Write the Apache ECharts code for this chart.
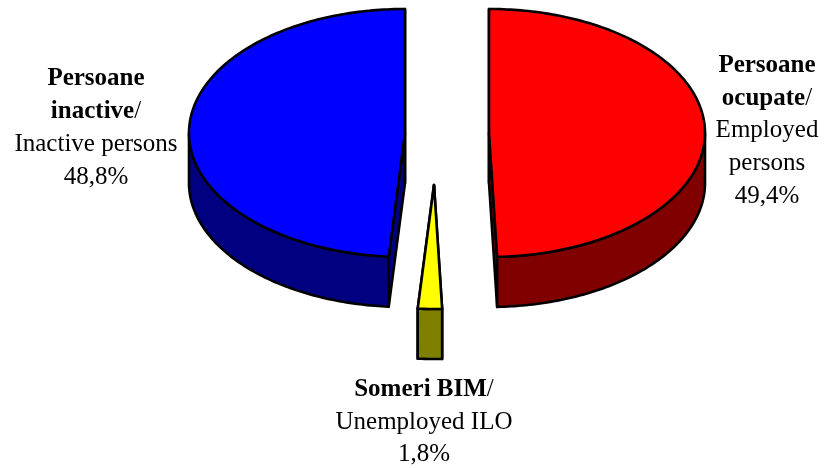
<!DOCTYPE html>
<html>
<head>
<meta charset="utf-8">
<style>
  html, body { margin: 0; padding: 0; background: #fff; }
  #chart { width: 824px; height: 468px; }
</style>
<script src="https://cdn.jsdelivr.net/npm/echarts@6/dist/echarts.min.js"></script>
</head>
<body>
<div id="chart"></div>
<script>
// date
const values = [49.4, 1.8, 48.8];
const boldNames = [['Persoane', 'ocupate'], ['Someri BIM'], ['Persoane', 'inactive']];
const plainNames = [['Employed', 'persons'], ['Unemployed ILO'], ['Inactive persons']];
const percents = ['49,4%', '1,8%', '48,8%'];

// culori fata / lateral
const topColors = ['#ff0000', '#ffff00', '#0000ff'];
const sideColors = ['#800000', '#808000', '#000080'];

// geometrie
const rx = 216;
const ry = 124;
const depth = 50;
const centers = [[489, 133], [434, 185], [405, 133]];
const labelPos = [[767, 49], [424, 373], [96, 62.5]];

const total = values.reduce((a, b) => a + b, 0);

function point(c, angle, dy) {
  return [c[0] + rx * Math.sin(angle), c[1] - ry * Math.cos(angle) + (dy || 0)];
}

function arcPoints(c, from, to, dy) {
  const steps = Math.max(2, Math.ceil(Math.abs(to - from) * 60));
  const pts = [];
  for (let i = 0; i <= steps; i++) {
    pts.push(point(c, from + (to - from) * i / steps, dy));
  }
  return pts;
}

function poly(points, fill) {
  return {
    type: 'polygon',
    shape: { points: points },
    style: { fill: fill, stroke: '#000', lineWidth: 2.6, lineJoin: 'round' },
  };
}

function renderSlice(params, api) {
  const i = params.dataIndex;
  const before = values.slice(0, i).reduce((a, b) => a + b, 0);
  const start = before / total * Math.PI * 2;
  const end = start + api.value(0) / total * Math.PI * 2;
  const c = centers[i];
  const bottomCenter = [c[0], c[1] + depth];
  const children = [];

  // peretii taieturii
  [start, end].forEach((a) => {
    children.push(poly([c, point(c, a), point(c, a, depth), bottomCenter], sideColors[i]));
  });

  // partea laterala vizibila
  const from = Math.max(start, Math.PI / 2);
  const to = Math.min(end, Math.PI * 1.5);
  if (to > from) {
    children.push(poly(
      arcPoints(c, from, to).concat(arcPoints(c, to, from, depth)),
      sideColors[i]
    ));
  }

  // fata de sus
  children.push(poly([c].concat(arcPoints(c, start, end)), topColors[i]));

  // eticheta
  const lines = boldNames[i].map((s, k) =>
    '{b|' + s + '}' + (k === boldNames[i].length - 1 ? '{n|/}' : ''))
    .concat(plainNames[i].map((s) => '{n|' + s + '}'))
    .concat('{n|' + percents[i] + '}');
  children.push({
    type: 'text',
    x: labelPos[i][0],
    y: labelPos[i][1],
    style: {
      text: lines.join('\n'),
      align: 'center',
      verticalAlign: 'top',
      rich: {
        b: { fontFamily: 'Liberation Serif', fontSize: 25, fontWeight: 'bold', fill: '#000', lineHeight: 32.7 },
        n: { fontFamily: 'Liberation Serif', fontSize: 25, fill: '#000', lineHeight: 32.7 },
      },
    },
  });

  return { type: 'group', children: children };
}

const chart = echarts.init(document.getElementById('chart'));
chart.setOption({
  animation: false,
  backgroundColor: '#fff',
  series: [
    {
      type: 'custom',
      coordinateSystem: 'none',
      renderItem: renderSlice,
      data: values.map((v) => [v]),
    },
  ],
});
</script>
</body>
</html>
